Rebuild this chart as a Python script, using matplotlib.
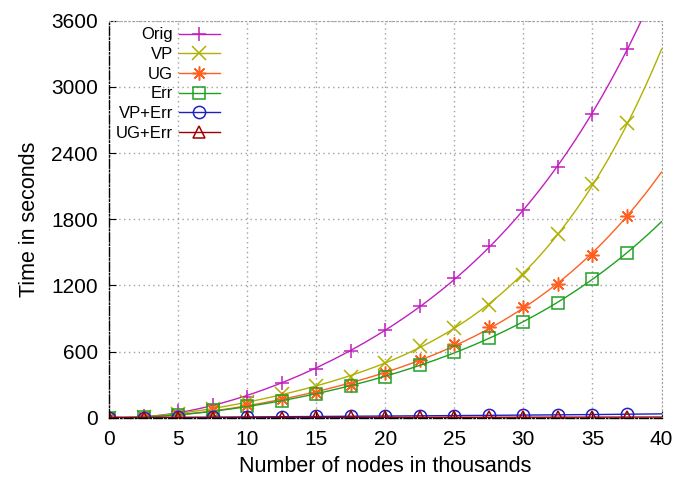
import numpy as np
import matplotlib
matplotlib.use('Agg')
import matplotlib.pyplot as plt

# Data (time in seconds, nodes in thousands).
# Markers are drawn every 2.5k nodes; the curves run on to 40k.
nodes = [0, 2.5, 5, 7.5, 10, 12.5, 15, 17.5, 20, 22.5, 25, 27.5, 30, 32.5, 35, 37.5, 40]
t_orig = [0, 12, 65, 115, 191, 312, 440, 605, 793, 1015, 1268, 1553, 1884, 2275, 2751, 3345, 4010]
t_vp = [0, 8, 35, 76, 146, 215, 288, 373, 500, 650, 816, 1022, 1294, 1664, 2115, 2676, 3330]
t_ug = [0, 6, 28, 68, 115, 170, 221, 300, 405, 523, 667, 825, 1001, 1210, 1476, 1830, 2235]
t_err = [0, 5, 25, 66, 104, 150, 212, 285, 372, 481, 598, 725, 864, 1043, 1255, 1497, 1779]
t_vp_err = [0, 1, 3, 5, 7, 9, 11, 13, 15, 17, 19, 21, 24, 26, 28, 31, 35]
t_ug_err = [0, 0.3, 0.6, 1, 1.3, 1.6, 2, 2.3, 2.6, 3, 3.3, 3.6, 4, 4.3, 4.6, 5, 6]

labels = ['Orig', 'VP', 'UG', 'Err', 'VP+Err', 'UG+Err']
series = [t_orig, t_vp, t_ug, t_err, t_vp_err, t_ug_err]
colors = ['#c020c0', '#b0b000', '#ff6020', '#20a020', '#2020c0', '#a00000']
markers = ['+', 'x', (8, 2, 0), 's', 'o', '^']
msizes = [9.5, 9.5, 10, 8.6, 8.8, 8]

plt.rcParams['font.family'] = ['Liberation Sans', 'DejaVu Sans']

fig = plt.figure(figsize=(6.9, 4.8), dpi=100)
ax = fig.add_axes([0.158, 0.1298, 0.8007, 0.827])

xs = np.linspace(0, 40, 400)
for lab, ys, c, m, ms in zip(labels, series, colors, markers, msizes):
    coef = np.polyfit(nodes, ys, 4)
    ax.plot(xs, np.polyval(coef, xs), color=c, lw=1)
    ax.plot(nodes[:-1], ys[:-1], ls='none', marker=m, ms=ms, mec=c, mfc='none', mew=1.1)
    ax.plot([], [], color=c, lw=1, marker=m, ms=ms, mec=c, mfc='none', mew=1.1, label=lab)

ax.set_xlim(0, 40)
ax.set_ylim(0, 3600)
ax.set_xticks(np.arange(0, 41, 5))
ax.set_yticks(np.arange(0, 3601, 600))
ax.tick_params(direction='in', length=5, labelsize=15, top=False, right=False)
ax.tick_params(axis='x', pad=9)
ax.tick_params(axis='y', pad=8)
ax.grid(True, ls=(0, (1, 2.5)), color='#a0a0a0', lw=1)

for side in ['top', 'right']:
    ax.spines[side].set_linestyle((0, (1, 2.5)))
    ax.spines[side].set_color('#a0a0a0')
for side in ['left', 'bottom']:
    ax.spines[side].set_linestyle('-.')
    ax.spines[side].set_linewidth(1)

ax.set_xlabel('Number of nodes in thousands', fontsize=15.5, labelpad=5)
ax.set_ylabel('Time in seconds', fontsize=15.5, labelpad=8)

leg = ax.legend(loc='upper left', markerfirst=False, frameon=False, fontsize=12,
                handlelength=2.45, handletextpad=0.36, labelspacing=0.28,
                borderpad=0.1, borderaxespad=0.3)

fig.savefig('out.png', dpi=100)
